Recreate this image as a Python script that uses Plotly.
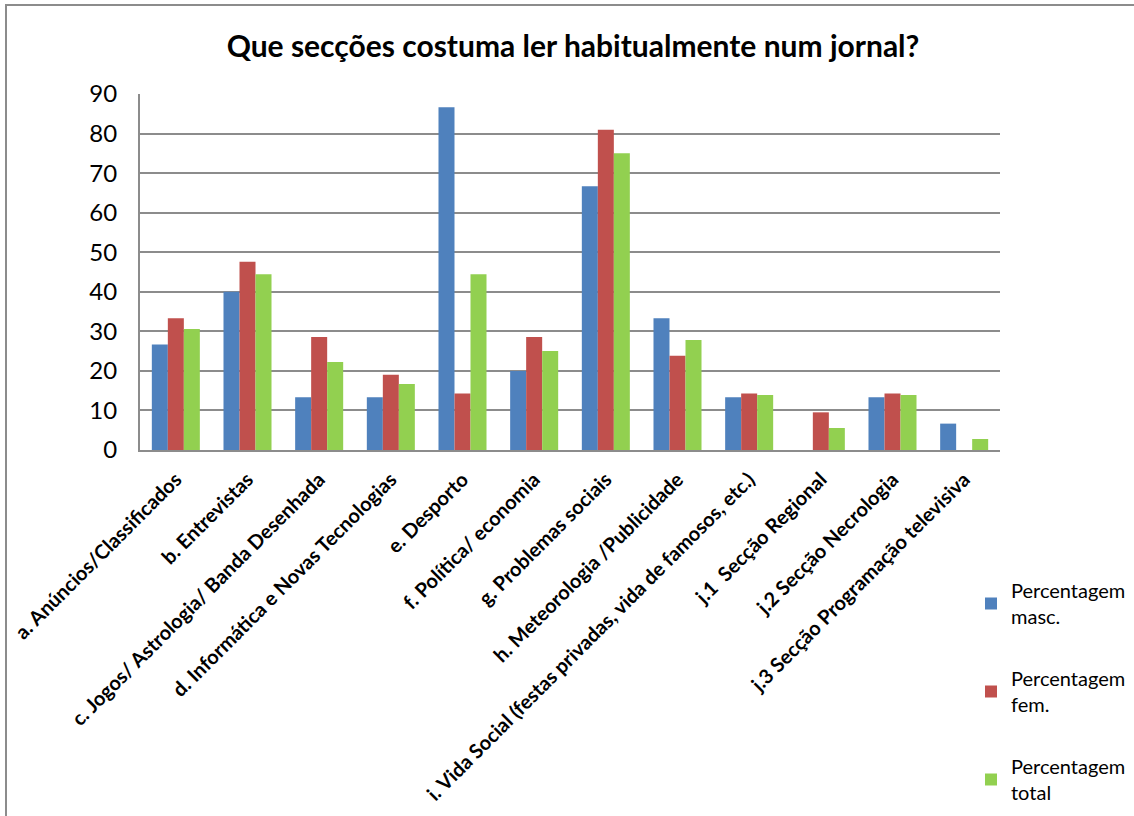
import plotly.graph_objects as go

categories = [
    "a. Anúncios/Classificados",
    "b. Entrevistas",
    "c. Jogos/ Astrologia/ Banda Desenhada",
    "d. Informática e Novas Tecnologias",
    "e. Desporto",
    "f. Política/ economia",
    "g. Problemas sociais",
    "h. Meteorologia /Publicidade",
    "i. Vida Social (festas privadas, vida de famosos, etc.)",
    "j.1  Secção Regional",
    "j.2 Secção Necrologia",
    "j.3 Secção Programação televisiva",
]
masc = [26.67, 40.0, 13.33, 13.33, 86.67, 20.0, 66.67, 33.33, 13.33, 0.0, 13.33, 6.67]
fem = [33.33, 47.62, 28.57, 19.05, 14.29, 28.57, 80.95, 23.81, 14.29, 9.52, 14.29, 0.0]
total = [30.56, 44.44, 22.22, 16.67, 44.44, 25.0, 75.0, 27.78, 13.89, 5.56, 13.89, 2.78]
series_names = ["Percentagem<br>masc.", "Percentagem<br>fem.", "Percentagem<br>total"]
colors = ["#4F81BD", "#C0504D", "#92D050"]
y_ticks = [0, 10, 20, 30, 40, 50, 60, 70, 80, 90]

FONT = "Lato, Open Sans, sans-serif"
W, H = 1134, 816
L, R, T, B = 140, 134, 94, 366
PW, PH = W - L - R, H - T - B

fig = go.Figure()
for i, (name, vals) in enumerate(zip(series_names, [masc, fem, total])):
    fig.add_trace(go.Bar(
        x=categories, y=vals, name=name, legendgroup=str(i),
        marker=dict(color=colors[i], line=dict(width=0)),
    ))

fig.update_layout(
    width=W, height=H,
    paper_bgcolor="white", plot_bgcolor="white",
    margin=dict(l=L, r=R, t=T, b=B, autoexpand=False),
    barmode="group", bargap=0.33, bargroupgap=0,
    font=dict(family=FONT, color="black"),
    title=dict(
        text="<b>Que secções costuma ler habitualmente num jornal?</b>",
        x=573 / W, xanchor="center", xref="container",
        y=1 - 46 / H, yanchor="middle", yref="container",
        font=dict(size=30, family=FONT, color="black"),
    ),
    xaxis=dict(
        tickangle=-45, tickfont=dict(size=20, family=FONT, color="black"),
        showline=True, linecolor="#8C8C8C", linewidth=2, mirror=False,
        showgrid=False, ticks="", automargin=False, ticklabelstandoff=8,
        tickvals=categories, ticktext=["<b>%s</b>" % c for c in categories],
    ),
    yaxis=dict(
        range=[0, 90], tickvals=y_ticks, tickfont=dict(size=24, family=FONT, color="black"),
        showgrid=True, gridcolor="#8C8C8C", gridwidth=2,
        showline=True, linecolor="#8C8C8C", linewidth=2,
        ticks="", ticklabelstandoff=16, zeroline=False, automargin=False,
    ),
    legend=dict(
        xref="container", yref="container",
        x=971 / W, xanchor="left", y=1 - 571 / H, yanchor="top",
        font=dict(size=20, family=FONT, color="black"),
        tracegroupgap=33, itemwidth=30,
    ),
    showlegend=True,
    shapes=[dict(
        type="rect", xref="paper", yref="paper",
        x0=(6 - L) / PW, x1=(W + 20 - L) / PW,
        y0=(T + PH - (H + 20)) / PH, y1=(T + PH - 5) / PH,
        line=dict(color="#8C8C8C", width=2), fillcolor="rgba(0,0,0,0)", layer="below",
    )],
)

fig.write_html("out.html", config={"displayModeBar": False},
               post_script="document.body.style.margin='0';")
